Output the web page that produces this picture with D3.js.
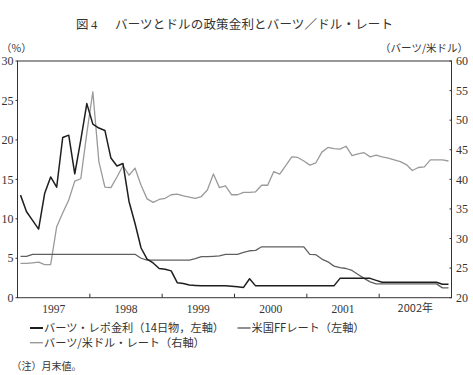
<!DOCTYPE html>
<html>
<head>
<meta charset="utf-8">
<script src="https://cdn.jsdelivr.net/npm/d3@7"></script>
<style>
  html, body { margin: 0; padding: 0; background: #fff; }
  svg { display: block; }
  .jp { font-family: "Noto Sans CJK JP", "Noto Sans", sans-serif; fill: #333; }
  .num { font-family: "Liberation Serif", "DejaVu Serif", serif; fill: #333; }
</style>
</head>
<body>
<div id="chart"></div>
<script>
// monthly, month-end values, Jan 1997 .. Dec 2002
const repoRate = [
  13.0, 10.9, 9.8, 8.7, 13.2, 15.3, 14.0, 20.3, 20.6, 15.7, 20.0, 24.6,
  22.0, 21.5, 21.2, 17.7, 16.7, 17.0, 12.2, 9.4, 6.3, 4.9, 4.4, 3.7,
  3.6, 3.4, 1.9, 1.8, 1.6, 1.55, 1.5, 1.5, 1.5, 1.5, 1.5, 1.45,
  1.4, 1.3, 2.4, 1.5, 1.5, 1.5, 1.5, 1.5, 1.5, 1.5, 1.5, 1.5,
  1.5, 1.5, 1.5, 1.5, 1.5, 2.45, 2.45, 2.45, 2.45, 2.45, 2.45, 2.2,
  1.95, 1.95, 1.95, 1.95, 1.95, 1.95, 1.95, 1.95, 1.95, 1.95, 1.7, 1.7
];
const fedFunds = [
  5.25, 5.25, 5.5, 5.5, 5.5, 5.5, 5.5, 5.5, 5.5, 5.5, 5.5, 5.5,
  5.5, 5.5, 5.5, 5.5, 5.5, 5.5, 5.5, 5.5, 5.0, 4.75, 4.75, 4.75,
  4.75, 4.75, 4.75, 4.75, 4.75, 4.95, 5.2, 5.2, 5.25, 5.3, 5.5, 5.5,
  5.5, 5.75, 5.95, 6.0, 6.45, 6.45, 6.45, 6.45, 6.45, 6.45, 6.45, 6.45,
  5.5, 5.45, 4.9, 4.55, 4.0, 3.8, 3.7, 3.45, 2.95, 2.45, 2.0, 1.75,
  1.75, 1.75, 1.75, 1.75, 1.75, 1.75, 1.75, 1.75, 1.75, 1.75, 1.25, 1.25
];
const bahtUsd = [
  25.8, 25.8, 25.9, 26.0, 25.6, 25.6, 32.0, 34.3, 36.5, 39.7, 40.1, 47.8,
  54.8, 43.0, 38.7, 38.6, 40.4, 42.3, 40.7, 41.9, 39.0, 36.7, 36.1, 36.6,
  36.8, 37.4, 37.5, 37.2, 37.0, 36.8, 37.1, 38.2, 40.9, 38.6, 38.9, 37.4,
  37.4, 37.8, 37.8, 37.9, 39.0, 39.0, 41.3, 40.9, 42.3, 43.8, 43.7, 43.1,
  42.4, 42.8, 44.6, 45.4, 45.2, 45.1, 45.6, 44.0, 44.3, 44.5, 43.8, 44.1,
  43.8, 43.6, 43.3, 43.0, 42.5, 41.5, 42.0, 42.1, 43.3, 43.3, 43.3, 43.1
];
const yearLabels = ["1997", "1998", "1999", "2000", "2001", "2002年"];
const leftTicks = [0, 5, 10, 15, 20, 25, 30];
const rightTicks = [20, 25, 30, 35, 40, 45, 50, 55, 60];

const width = 473, height = 375;
const plot = { left: 17.5, right: 451.5, top: 61, bottom: 297.7 };

const svg = d3.select("#chart").append("svg")
  .attr("width", width).attr("height", height);

const x = d3.scaleLinear().domain([0, 72]).range([plot.left, plot.right]);
const yL = d3.scaleLinear().domain([0, 30]).range([plot.bottom, plot.top]);
const yR = d3.scaleLinear().domain([20, 60]).range([plot.bottom, plot.top]);

// title
svg.append("text").attr("class", "jp")
  .attr("x", 76).attr("y", 29).style("font-size", "12.5px")
  .text("図");
svg.append("text").attr("class", "num")
  .attr("x", 91).attr("y", 29).style("font-size", "12.5px")
  .text("4");
svg.append("text").attr("class", "jp")
  .attr("x", 115).attr("y", 29).style("font-size", "12.5px")
  .attr("textLength", 278).attr("lengthAdjust", "spacing")
  .text("バーツとドルの政策金利とバーツ／ドル・レート");

// unit labels
svg.append("text").attr("class", "jp")
  .attr("x", 1).attr("y", 51.5).style("font-size", "10.5px")
  .text("（%）");
svg.append("text").attr("class", "jp")
  .attr("x", 468).attr("y", 51.5).attr("text-anchor", "end")
  .style("font-size", "10.5px")
  .text("（バーツ/米ドル）");

// lines
const lineOf = (scale) => d3.line()
  .x((d, i) => x(i + 0.5))
  .y((d) => scale(d));

const series = [
  { values: bahtUsd, scale: yR, color: "#9a9a9a", w: 1.3 },
  { values: fedFunds, scale: yL, color: "#606060", w: 1.3 },
  { values: repoRate, scale: yL, color: "#1e1e1e", w: 1.5 },
];
svg.append("g").selectAll("path").data(series).join("path")
  .attr("fill", "none")
  .attr("stroke", (s) => s.color)
  .attr("stroke-width", (s) => s.w)
  .attr("stroke-linejoin", "round")
  .attr("d", (s) => lineOf(s.scale)(s.values));

// frame
svg.append("rect")
  .attr("x", plot.left).attr("y", plot.top)
  .attr("width", plot.right - plot.left)
  .attr("height", plot.bottom - plot.top)
  .attr("fill", "none").attr("stroke", "#333").attr("stroke-width", 1);

// left axis
const gl = svg.append("g");
gl.selectAll("line").data(leftTicks).join("line")
  .attr("x1", plot.left - 2).attr("x2", plot.left)
  .attr("y1", (d) => yL(d)).attr("y2", (d) => yL(d))
  .attr("stroke", "#333");
gl.selectAll("text").data(leftTicks).join("text")
  .attr("class", "num")
  .attr("x", 13.5).attr("y", (d) => yL(d)).attr("dy", "0.35em")
  .attr("text-anchor", "end").style("font-size", "12px")
  .text((d) => d);

// right axis
const gr = svg.append("g");
gr.selectAll("line").data(rightTicks).join("line")
  .attr("x1", plot.right - 2).attr("x2", plot.right)
  .attr("y1", (d) => yR(d)).attr("y2", (d) => yR(d))
  .attr("stroke", "#333");
gr.selectAll("text").data(rightTicks).join("text")
  .attr("class", "num")
  .attr("x", 456).attr("y", (d) => yR(d)).attr("dy", "0.35em")
  .style("font-size", "12px")
  .text((d) => d);

// x axis: ticks at year boundaries, labels mid-year
const gx = svg.append("g");
gx.selectAll("line").data(d3.range(12, 72, 12)).join("line")
  .attr("x1", (d) => x(d)).attr("x2", (d) => x(d))
  .attr("y1", plot.bottom).attr("y2", plot.bottom - 4)
  .attr("stroke", "#333");
gx.selectAll("text").data(yearLabels).join("text")
  .attr("x", (d, i) => x(i * 12 + 6)).attr("y", 308.5).attr("dy", "0.35em")
  .attr("text-anchor", "middle")
  .attr("class", (d) => d.endsWith("年") ? "jp" : "num")
  .style("font-size", (d) => d.endsWith("年") ? "11px" : "11.5px")
  .text((d) => d);

// legend
const legend = [
  { label: "バーツ・レポ金利（14日物，左軸）", color: "#1e1e1e", w: 2, lx: 30, ly: 328 },
  { label: "米国FFレート（左軸）", color: "#606060", w: 1.4, lx: 237.5, ly: 328 },
  { label: "バーツ/米ドル・レート（右軸）", color: "#9a9a9a", w: 1.4, lx: 30, ly: 342.7 },
];
const lg = svg.append("g").selectAll("g").data(legend).join("g")
  .attr("transform", (d) => `translate(${d.lx},${d.ly})`);
lg.append("line")
  .attr("x1", 0).attr("x2", 13).attr("y1", 0).attr("y2", 0)
  .attr("stroke", (d) => d.color).attr("stroke-width", (d) => d.w);
lg.append("text").attr("class", "jp")
  .attr("x", 14).attr("y", 0).attr("dy", "0.36em")
  .style("font-size", "11.2px")
  .text((d) => d.label);

// note
svg.append("text").attr("class", "jp")
  .attr("x", 11.5).attr("y", 370).style("font-size", "10px")
  .text("（注）月末値。");
</script>
</body>
</html>
